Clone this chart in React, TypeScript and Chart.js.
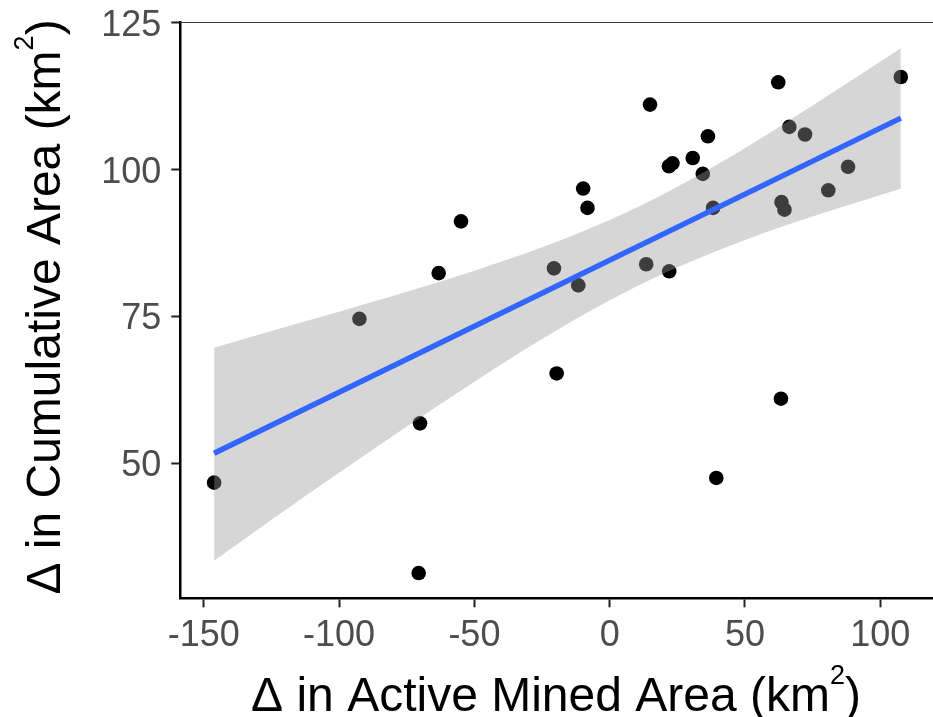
import React, { useEffect, useRef } from "react";
import { Chart, registerables } from "chart.js";

Chart.register(...registerables);

// Observed points: change in active mined area (x) vs change in cumulative area (y)
const xValues = [
  -146.2, -92.5, -70.1, -70.6, -63.2, -54.95, -20.6, -19.6, -11.6, -9.8,
  -8.2, 13.5, 14.9, 22.0, 21.9, 23.2, 30.7, 34.4, 36.3, 38.2,
  39.4, 62.3, 63.5, 64.6, 63.3, 66.4, 72.2, 80.8, 88.1, 107.6,
];
const yValues = [
  46.7, 74.6, 56.8, 31.3, 82.4, 91.2, 83.2, 65.3, 80.3, 96.8,
  93.5, 83.9, 111.1, 82.7, 100.6, 101.1, 102.0, 99.3, 105.7, 93.5,
  47.5, 114.9, 94.5, 93.2, 61.0, 107.3, 106.0, 96.5, 100.5, 115.8,
];

// Fitted line end points
const fitX = [-146.2, 107.6];
const fitY = [51.7, 108.8];

// Confidence band
const ribbonX = [-146.2, -125, -100, -75, -50, -25, 0, 12.5, 25, 50, 75, 107.6];
const ribbonUpper = [69.7, 72.55, 75.81, 79.2, 82.8, 86.79, 91.46, 94.14, 97.09, 103.67, 110.94, 120.7];
const ribbonLower = [33.4, 40.39, 48.39, 56.26, 63.9, 71.17, 77.76, 80.7, 83.39, 88.05, 92.04, 96.75];

const xTicks = [-150, -100, -50, 0, 50, 100];
const yTicks = [50, 75, 100, 125];

const xTitle = ["Δ in Active Mined Area (km", "2", ")"];
const yTitle = ["Δ in Cumulative Area (km", "2", ")"];

const FONT = '"Liberation Sans", Arial, Helvetica, sans-serif';
const TITLE_SIZE = 48;
const SUP_SIZE = 27;
const SUP_RAISE = 27;

function drawSupTitle(ctx: CanvasRenderingContext2D, parts: string[]) {
  const main = `${TITLE_SIZE}px ${FONT}`;
  const sup = `${SUP_SIZE}px ${FONT}`;
  ctx.font = main;
  const w1 = ctx.measureText(parts[0]).width;
  const w3 = ctx.measureText(parts[2]).width;
  ctx.font = sup;
  const w2 = ctx.measureText(parts[1]).width;
  const total = w1 + w2 + w3;
  let x = -total / 2;
  ctx.textAlign = "left";
  ctx.textBaseline = "alphabetic";
  ctx.fillStyle = "#000";
  ctx.font = main;
  ctx.fillText(parts[0], x, 0);
  x += w1;
  ctx.font = sup;
  ctx.fillText(parts[1], x, -SUP_RAISE);
  x += w2;
  ctx.font = main;
  ctx.fillText(parts[2], x, 0);
}

const decorations = {
  id: "decorations",
  afterDraw(chart: any) {
    const { ctx, chartArea } = chart;
    ctx.save();
    ctx.strokeStyle = "#3a3a3a";
    ctx.lineWidth = 1.2;
    ctx.beginPath();
    ctx.moveTo(chartArea.left, chartArea.top + 0.5);
    ctx.lineTo(chart.width, chartArea.top + 0.5);
    ctx.stroke();
    ctx.restore();

    // x title
    ctx.save();
    ctx.translate(556, 711);
    drawSupTitle(ctx, xTitle);
    ctx.restore();

    // y title
    ctx.save();
    ctx.translate(60, 307);
    ctx.rotate(-Math.PI / 2);
    drawSupTitle(ctx, yTitle);
    ctx.restore();
  },
};

export default function App() {
  const ref = useRef<HTMLCanvasElement | null>(null);

  useEffect(() => {
    if (!ref.current) return;
    const pts = xValues.map((x, i) => ({ x, y: yValues[i] }));
    const fit = fitX.map((x, i) => ({ x, y: fitY[i] }));
    const up = ribbonX.map((x, i) => ({ x, y: ribbonUpper[i] }));
    const lo = ribbonX.map((x, i) => ({ x, y: ribbonLower[i] }));

    const chart = new Chart(ref.current, {
      type: "scatter",
      data: {
        datasets: [
          {
            data: fit,
            showLine: true,
            borderColor: "#3366FF",
            borderWidth: 5.5,
            pointRadius: 0,
            fill: false,
            order: 0,
          } as any,
          {
            data: up,
            showLine: true,
            borderWidth: 0,
            borderColor: "rgba(0,0,0,0)",
            pointRadius: 0,
            cubicInterpolationMode: "monotone",
            fill: "+1",
            backgroundColor: "rgba(153,153,153,0.4)",
            order: 1,
          } as any,
          {
            data: lo,
            showLine: true,
            borderWidth: 0,
            borderColor: "rgba(0,0,0,0)",
            pointRadius: 0,
            cubicInterpolationMode: "monotone",
            fill: false,
            order: 1,
          } as any,
          {
            data: pts,
            pointRadius: 7.3,
            pointBorderWidth: 0,
            pointBackgroundColor: "#000",
            pointBorderColor: "#000",
            backgroundColor: "#000",
            order: 2,
          } as any,
        ],
      },
      options: {
        responsive: false,
        animation: false,
        devicePixelRatio: 1,
        layout: { autoPadding: false, padding: { top: 22, left: 0, right: 0, bottom: 0 } },
        plugins: {
          legend: { display: false },
          tooltip: { enabled: false },
        },
        scales: {
          x: {
            type: "linear",
            min: -158.7,
            max: 119.5,
            afterFit: (s: any) => {
              s.height = 118.7;
              s.paddingLeft = 0;
              s.paddingRight = 0;
            },
            afterBuildTicks: (s: any) => {
              s.ticks = xTicks.map((v) => ({ value: v }));
            },
            border: { display: true, color: "#000", width: 2.5 },
            grid: {
              display: true,
              drawOnChartArea: false,
              drawTicks: true,
              tickLength: 9,
              tickWidth: 2,
              tickColor: "#222",
            },
            ticks: {
              color: "#4D4D4D",
              font: { family: FONT, size: 36, lineHeight: 1 },
              padding: 11,
              maxRotation: 0,
              autoSkip: false,
            },
            title: { display: false },
          },
          y: {
            type: "linear",
            min: 27.0,
            max: 125.17,
            afterFit: (s: any) => {
              s.width = 180.3;
              s.paddingTop = 0;
              s.paddingBottom = 0;
            },
            afterBuildTicks: (s: any) => {
              s.ticks = yTicks.map((v) => ({ value: v }));
            },
            border: { display: true, color: "#000", width: 2.5 },
            grid: {
              display: true,
              drawOnChartArea: false,
              drawTicks: true,
              tickLength: 9,
              tickWidth: 2,
              tickColor: "#222",
            },
            ticks: {
              color: "#4D4D4D",
              font: { family: FONT, size: 36, lineHeight: 1 },
              padding: 10,
              labelOffset: 3,
              autoSkip: false,
            },
            title: { display: false },
          },
        },
      },
      plugins: [decorations],
    });
    return () => chart.destroy();
  }, []);

  return (
    <div style={{ position: "fixed", left: 0, top: 0, width: 933, height: 717, background: "#fff" }}>
      <canvas ref={ref} width={933} height={717} style={{ display: "block" }} />
    </div>
  );
}
